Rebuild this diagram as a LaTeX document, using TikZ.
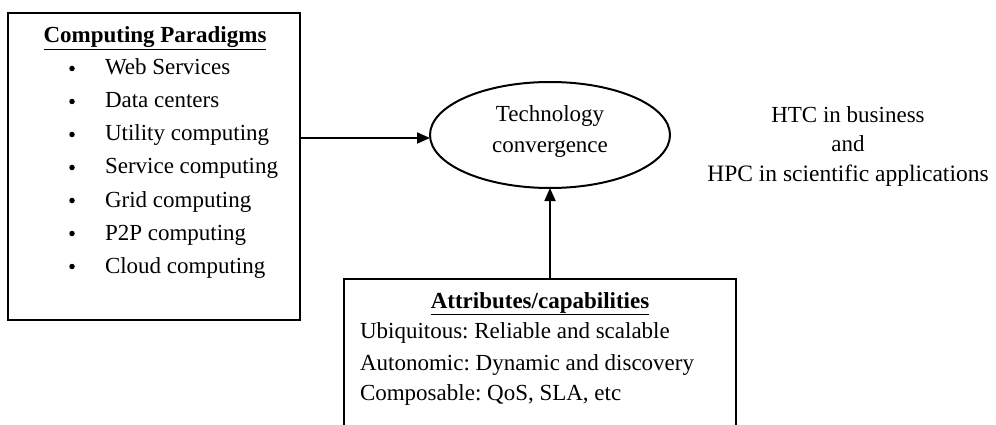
\documentclass[tikz,border=0pt]{standalone}
\usepackage{fontspec}
\setmainfont{Liberation Serif}
\frenchspacing
\usetikzlibrary{arrows.meta,shapes.geometric}
\begin{document}
\begin{tikzpicture}[x=1pt,y=-1pt,
  every node/.style={font=\fontsize{23}{27}\selectfont, inner sep=0pt, outer sep=0pt},
  frame/.style={draw, rectangle, line width=2.6pt},
  conv/.style={draw, ellipse, line width=2pt},
  flow/.style={line width=1.8pt, -{Triangle[length=13pt,width=11pt]}},
  dot/.style={circle, fill, minimum size=5.5pt},
  label/.style={anchor=base},
  entry/.style={anchor=base west},
  heading/.style={anchor=base, font=\fontsize{23}{27}\selectfont\bfseries}]
  \useasboundingbox (0,0) rectangle (996,425);
  \clip (0,0) rectangle (996,425);

  % computing paradigms box with bullet list
  \node[frame, minimum width=292pt, minimum height=307pt] (paradigms) at (154,166.5) {};
  \node[heading] (ptitle) at (155,43) {\underline{Computing Paradigms}};
  \foreach \t [count=\i] in {Web Services, Data centers, Utility computing,
      Service computing, Grid computing, P2P computing, Cloud computing} {
    \node[dot] (bullet\i) at (72,{75+33*(\i-1)-6.5}) {};
    \node[entry] (item\i) at (105,{75+33*(\i-1)}) {\t};
  }

  % convergence ellipse
  \node[conv, minimum width=240pt, minimum height=106pt] (conv) at (550,135) {};
  \node[label] (convA) at (550,122) {Technology};
  \node[label] (convB) at (550,153) {convergence};

  % outcome text
  \node[label] (htc) at (848,123) {HTC in business};
  \node[label] (and) at (848,152) {and};
  \node[label, font=\fontsize{23.5}{27}\selectfont] (hpc) at (848,182) {HPC in scientific applications};

  % attributes box
  \node[frame, minimum width=392pt, minimum height=181pt] (attrs) at (540,369.5) {};
  \node[heading] (atitle) at (540,308) {\underline{Attributes/capabilities}};
  \node[entry] (attr1) at (360,338) {Ubiquitous: Reliable and scalable};
  \node[entry] (attr2) at (360,370) {Autonomic: Dynamic and discovery};
  \node[entry] (attr3) at (360,400) {Composable: QoS, SLA, etc};

  % connectors
  \draw[flow] (paradigms.east |- 0,138) -- (conv.west |- 0,138);
  \draw[flow] (attrs.north -| conv.south) -- (conv.south);
\end{tikzpicture}
\end{document}
